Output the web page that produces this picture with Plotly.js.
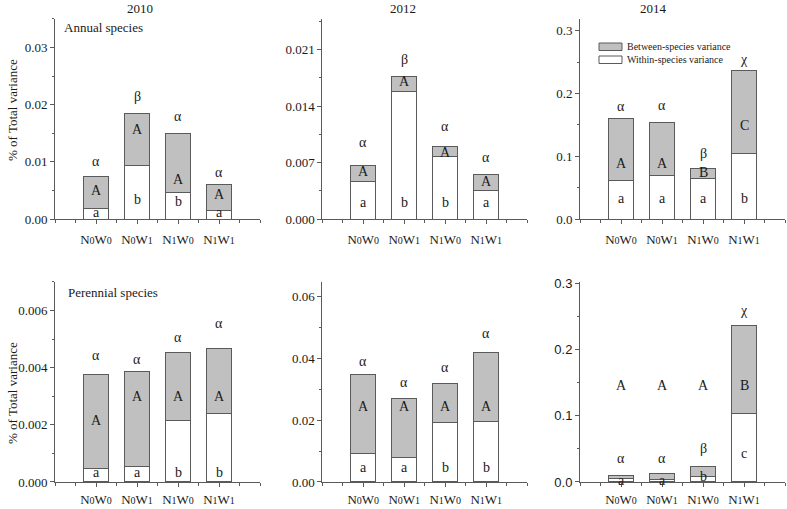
<!DOCTYPE html>
<html>
<head>
<meta charset="utf-8">
<script src="https://cdn.plot.ly/plotly-3.0.1.min.js"></script>
<style>
  html, body { margin: 0; padding: 0; background: #fff; }
  #chart { width: 787px; height: 509px; }
</style>
</head>
<body>
<div id="chart"></div>
<script>
// treatments
const treatments = ['N0W0', 'N0W1', 'N1W0', 'N1W1']

// annual species, within / between species variance
const annual2010Within  = [0.0019, 0.0094, 0.0047, 0.0015]
const annual2010Between = [0.0055, 0.0090, 0.0102, 0.0045]
const annual2012Within  = [0.0047, 0.0158, 0.0078, 0.0035]
const annual2012Between = [0.0019, 0.0019, 0.0012, 0.0020]
const annual2014Within  = [0.061, 0.069, 0.065, 0.104]
const annual2014Between = [0.099, 0.085, 0.016, 0.133]

// perennial species
const perennial2010Within  = [0.00047, 0.00054, 0.00215, 0.00240]
const perennial2010Between = [0.00328, 0.00333, 0.00239, 0.00227]
const perennial2012Within  = [0.0093, 0.0080, 0.0194, 0.0197]
const perennial2012Between = [0.0255, 0.0191, 0.0126, 0.0221]
const perennial2014Within  = [0.0045, 0.0040, 0.0090, 0.1035]
const perennial2014Between = [0.0050, 0.0090, 0.0145, 0.1335]

// significance letters and the height they sit at (data units)
const annual2010Greek = ['α', 'β', 'α', 'α'],  annual2010GreekY = [0.0100, 0.0214, 0.0179, 0.0082]
const annual2010Upper = ['A', 'A', 'A', 'A'],  annual2010UpperY = [0.0050, 0.0157, 0.0070, 0.0043]
const annual2010Lower = ['a', 'b', 'b', 'a'],  annual2010LowerY = [0.0012, 0.0034, 0.0031, 0.0012]

const annual2012Greek = ['α', 'β', 'α', 'α'],  annual2012GreekY = [0.0095, 0.0198, 0.0115, 0.0076]
const annual2012Upper = ['A', 'A', 'A', 'A'],  annual2012UpperY = [0.0059, 0.0170, 0.0083, 0.0047]
const annual2012Lower = ['a', 'b', 'b', 'a'],  annual2012LowerY = [0.0021, 0.0021, 0.0021, 0.0021]

const annual2014Greek = ['α', 'α', 'β', 'χ'],  annual2014GreekY = [0.180, 0.181, 0.105, 0.254]
const annual2014Upper = ['A', 'A', 'B', 'C'],  annual2014UpperY = [0.089, 0.089, 0.0745, 0.149]
const annual2014Lower = ['a', 'a', 'a', 'b'],  annual2014LowerY = [0.032, 0.032, 0.032, 0.032]

const perennial2010Greek = ['α', 'α', 'α', 'α'],  perennial2010GreekY = [0.00441, 0.00427, 0.00506, 0.00553]
const perennial2010Upper = ['A', 'A', 'A', 'A'],  perennial2010UpperY = [0.00216, 0.00298, 0.00298, 0.00298]
const perennial2010Lower = ['a', 'a', 'b', 'b'],  perennial2010LowerY = [0.00032, 0.00032, 0.00032, 0.00032]

const perennial2012Greek = ['α', 'α', 'α', 'α'],  perennial2012GreekY = [0.0391, 0.0321, 0.0370, 0.0481]
const perennial2012Upper = ['A', 'A', 'A', 'A'],  perennial2012UpperY = [0.0243, 0.0243, 0.0243, 0.0243]
const perennial2012Lower = ['a', 'a', 'b', 'b'],  perennial2012LowerY = [0.0048, 0.0048, 0.0048, 0.0048]

const perennial2014Greek = ['α', 'α', 'β', 'χ'],  perennial2014GreekY = [0.0355, 0.0355, 0.0505, 0.2595]
const perennial2014Upper = ['A', 'A', 'A', 'B'],  perennial2014UpperY = [0.1455, 0.1455, 0.1455, 0.1455]
const perennial2014Lower = ['a', 'a', 'b', 'c'],  perennial2014LowerY = [0.0015, 0.0015, 0.008, 0.043]

const legendNames = ['Between-species variance', 'Within-species variance']

const SERIF = "Liberation Serif"
const SANS = "Liberation Sans"
const INK = '#1a1a1a'
const AXIS = '#5a5a5a'
const GREY = '#c0c0c0'

// panel layout: [x0, x1] and [y0, y1] in paper units
const colDomains = [[0.0699, 0.3304], [0.4095, 0.6700], [0.7370, 0.9975]]
const rowDomains = [[0.5697, 0.9627], [0.0531, 0.4460]]
const rowStandoff = [4, 1]

const panels = [
    {within: annual2010Within, between: annual2010Between, range: [0, 0.035], dtick: 0.01, fmt: '.2f',
     greek: [annual2010Greek, annual2010GreekY], upper: [annual2010Upper, annual2010UpperY], lower: [annual2010Lower, annual2010LowerY]},
    {within: annual2012Within, between: annual2012Between, range: [0, 0.0248], dtick: 0.007, fmt: '.3f',
     greek: [annual2012Greek, annual2012GreekY], upper: [annual2012Upper, annual2012UpperY], lower: [annual2012Lower, annual2012LowerY]},
    {within: annual2014Within, between: annual2014Between, range: [0, 0.319], dtick: 0.1, fmt: '.1f',
     greek: [annual2014Greek, annual2014GreekY], upper: [annual2014Upper, annual2014UpperY], lower: [annual2014Lower, annual2014LowerY]},
    {within: perennial2010Within, between: perennial2010Between, range: [0, 0.0070], dtick: 0.002, fmt: '.3f',
     greek: [perennial2010Greek, perennial2010GreekY], upper: [perennial2010Upper, perennial2010UpperY], lower: [perennial2010Lower, perennial2010LowerY]},
    {within: perennial2012Within, between: perennial2012Between, range: [0, 0.0648], dtick: 0.02, fmt: '.2f',
     greek: [perennial2012Greek, perennial2012GreekY], upper: [perennial2012Upper, perennial2012UpperY], lower: [perennial2012Lower, perennial2012LowerY]},
    {within: perennial2014Within, between: perennial2014Between, range: [0, 0.302], dtick: 0.1, fmt: '.1f', sans: true,
     greek: [perennial2014Greek, perennial2014GreekY], upper: [perennial2014Upper, perennial2014UpperY], lower: [perennial2014Lower, perennial2014LowerY]},
]

// N0W0 -> N + small 0 + W + small 0
function tickLabel(t) {
    return t.replace(/(\d)/g, '<span style="font-size:10px">$1</span>')
}

const xPos = treatments.map((t, i) => i)

let traces = []
let annotations = []
let shapes = []
let layout = {
    width: 787,
    height: 509,
    margin: {l: 0, r: 0, t: 0, b: 0},
    paper_bgcolor: '#fff',
    plot_bgcolor: '#fff',
    barmode: 'stack',
    font: {family: SERIF, size: 13, color: INK},
    showlegend: false,
}

panels.forEach((p, i) => {

    let n = i + 1
    let xa = n === 1 ? 'x' : 'x' + n
    let ya = n === 1 ? 'y' : 'y' + n
    let col = i % 3
    let row = Math.floor(i / 3)

    // WITHIN (white, bottom)
    traces.push({
        type: 'bar', x: xPos, y: p.within, xaxis: xa, yaxis: ya,
        width: 0.6,
        name: legendNames[1],
        marker: {color: '#ffffff', line: {color: AXIS, width: 1}},
        hoverinfo: 'skip',
    })

    // BETWEEN (grey, on top)
    traces.push({
        type: 'bar', x: xPos, y: p.between, xaxis: xa, yaxis: ya,
        width: 0.6,
        name: legendNames[0],
        marker: {color: GREY, line: {color: AXIS, width: 1}},
        hoverinfo: 'skip',
    })

    let tickFont = p.sans ? {family: SANS, size: 13, color: INK} : {family: SERIF, size: 13, color: INK}

    layout['xaxis' + (n === 1 ? '' : n)] = {
        domain: colDomains[col],
        anchor: ya,
        range: [-1, 4],
        tickmode: 'array',
        tickvals: xPos,
        ticktext: treatments.map(tickLabel),
        ticks: 'outside', ticklen: 4, tickcolor: AXIS, tickwidth: 1,
        minor: {tickmode: 'array', tickvals: [-1, -0.5, 0.5, 1.5, 2.5, 3.5, 4], ticks: 'outside', ticklen: 3, tickcolor: AXIS},
        ticklabelstandoff: rowStandoff[row],
        showline: true, linecolor: AXIS, linewidth: 1,
        showgrid: false, zeroline: false,
        tickfont: {family: SERIF, size: 13, color: INK},
        fixedrange: true,
    }

    layout['yaxis' + (n === 1 ? '' : n)] = {
        domain: rowDomains[row],
        anchor: xa,
        range: p.range,
        dtick: p.dtick,
        tick0: 0,
        tickformat: p.fmt,
        ticks: 'outside', ticklen: 4, tickcolor: AXIS, tickwidth: 1,
        minor: {dtick: p.dtick / 2, ticks: 'outside', ticklen: 2, tickcolor: AXIS},
        showline: true, linecolor: AXIS, linewidth: 1,
        showgrid: false, zeroline: false,
        tickfont: tickFont,
        fixedrange: true,
    }

    // significance letters
    ;[p.greek, p.upper, p.lower].forEach(([labels, ys]) => {
        labels.forEach((lab, k) => {
            annotations.push({
                xref: xa, yref: ya, x: xPos[k], y: ys[k],
                text: lab, showarrow: false,
                font: {family: SERIF, size: 14, color: INK},
                xanchor: 'center', yanchor: 'middle',
            })
        })
    })
})

// year titles
;[['2010', 140], ['2012', 403], ['2014', 653]].forEach(([t, px]) => {
    annotations.push({
        xref: 'paper', yref: 'paper', x: px / 787, y: 1 - 8 / 509,
        text: t, showarrow: false, xanchor: 'center', yanchor: 'middle',
        font: {family: SERIF, size: 13, color: INK},
    })
})

// group labels
annotations.push({
    xref: 'paper', yref: 'paper', x: 62 / 787, y: 1 - 28 / 509,
    text: 'Annual species', showarrow: false, xanchor: 'left', yanchor: 'middle',
    font: {family: SERIF, size: 13, color: INK},
})
annotations.push({
    xref: 'paper', yref: 'paper', x: 66 / 787, y: 1 - 292 / 509,
    text: 'Perennial species', showarrow: false, xanchor: 'left', yanchor: 'middle',
    font: {family: SERIF, size: 13, color: INK},
})

// y axis titles
;[110, 393].forEach((py) => {
    annotations.push({
        xref: 'paper', yref: 'paper', x: 12 / 787, y: 1 - py / 509,
        text: '% of Total variance', showarrow: false, textangle: -90,
        xanchor: 'center', yanchor: 'middle',
        font: {family: SERIF, size: 13, color: INK},
    })
})

// legend (2014 annual panel): swatch + label
;[[GREY, 43, 50.5], ['#ffffff', 56, 63.5]].forEach(([fill, top, bot], k) => {
    shapes.push({
        type: 'rect', xref: 'paper', yref: 'paper',
        x0: 599 / 787, x1: 622 / 787, y0: 1 - bot / 509, y1: 1 - top / 509,
        fillcolor: fill, line: {color: AXIS, width: 1},
    })
    annotations.push({
        xref: 'paper', yref: 'paper', x: 625 / 787, y: 1 - (top + bot) / 2 / 509,
        text: legendNames[k], showarrow: false, xanchor: 'left', yanchor: 'middle',
        font: {family: SERIF, size: 10, color: INK},
    })
})

layout.annotations = annotations
layout.shapes = shapes

Plotly.newPlot('chart', traces, layout, {displayModeBar: false, staticPlot: true})
</script>
</body>
</html>
